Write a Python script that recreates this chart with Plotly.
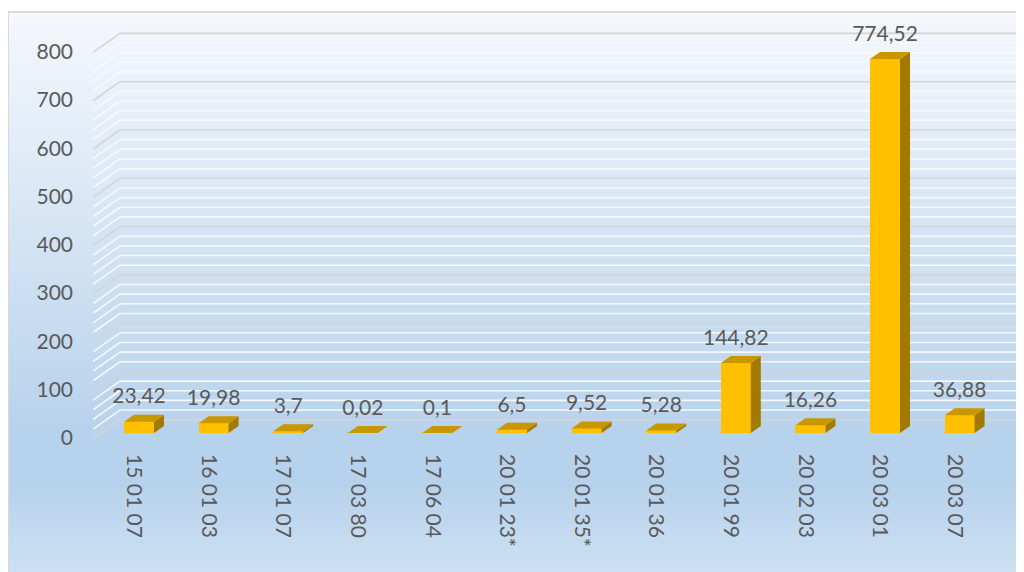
import plotly.graph_objects as go

# ---------------- data ----------------
categories = ["15 01 07", "16 01 03", "17 01 07", "17 03 80", "17 06 04", "20 01 23*",
              "20 01 35*", "20 01 36", "20 01 99", "20 02 03", "20 03 01", "20 03 07"]
values = [23.42, 19.98, 3.7, 0.02, 0.1, 6.5, 9.52, 5.28, 144.82, 16.26, 774.52, 36.88]
y_ticks = [0, 100, 200, 300, 400, 500, 600, 700, 800]
minor_step = 20

# ---------------- geometry / style ----------------
# page coordinates are converted to figure coordinates (the page body has an 8px margin)
OFF = 8
W, H = 1024, 572

def fx(px):  # page x -> figure x
    return px - OFF

def fy(py):  # page y -> figure y
    return py - OFF

L = fx(93)
T = fy(25)
plot_right = fx(1016)
plot_bottom = fy(445)
R = W - plot_right
B = H - plot_bottom
plot_w = plot_right - L
plot_h = plot_bottom - T

px_per_cat = 74.6
px_per_unit = 0.4829
first_center_px = fx(139)
zero_px = fy(433)

x_range = [(L - first_center_px) / px_per_cat, (plot_right - first_center_px) / px_per_cat]
y_range = [(zero_px - plot_bottom) / px_per_unit, (zero_px - T) / px_per_unit]

bar_w = 30 / px_per_cat
dx = 10 / px_per_cat          # bar depth, x
dy = 7 / px_per_unit          # bar depth, y
wall_front_x = x_range[0]
wall_back_x = (fx(120) - first_center_px) / px_per_cat
wall_front_dy = -12.0
wall_back_dy = 27.5

FRONT = "#FFC000"
TOP = "#C99700"
SIDE = "#A37A00"
TXT = "#595959"
FONT = "Lato"
FS = 21

def hex2rgb(h):
    h = h.lstrip("#")
    return tuple(int(h[i:i + 2], 16) for i in (0, 2, 4))

grad_stops = [(0.0, "#F5F8FC"), (0.74, "#B7D2EC"), (0.83, "#B7D2EC"), (1.0, "#CFE2F3")]

def grad_color(t):
    for (t0, c0), (t1, c1) in zip(grad_stops[:-1], grad_stops[1:]):
        if t0 <= t <= t1:
            f = 0 if t1 == t0 else (t - t0) / (t1 - t0)
            a, b = hex2rgb(c0), hex2rgb(c1)
            return "rgb(%d,%d,%d)" % tuple(round(a[i] + (b[i] - a[i]) * f) for i in range(3))
    return grad_stops[-1][1]

def paper_x(px_page):
    return (fx(px_page) - L) / plot_w

def paper_y(py_page):
    return (plot_bottom - fy(py_page)) / plot_h

shapes = []
# background gradient of chart area
top_px, bot_px, step = 12, 582, 4
py = top_px
while py < bot_px:
    t = (py - top_px + step / 2) / (bot_px - top_px)
    shapes.append(dict(type="rect", xref="paper", yref="paper", layer="below",
                       x0=paper_x(8), x1=paper_x(1050),
                       y0=paper_y(py + step + 0.5), y1=paper_y(py),
                       line=dict(width=0), fillcolor=grad_color(t)))
    py += step
# border
shapes.append(dict(type="rect", xref="paper", yref="paper", layer="below",
                   x0=paper_x(8), x1=paper_x(1050),
                   y0=paper_y(620), y1=paper_y(12),
                   line=dict(width=2, color="#D9D9D9"), fillcolor="rgba(0,0,0,0)"))

# 3D gridlines: diagonal side wall + back wall horizontal
k = y_ticks[0]
while k <= y_ticks[-1]:
    major = (k % 100 == 0)
    col = "#D4D4D4" if major else "rgba(248,250,252,0.95)"
    lw = 1.6
    shapes.append(dict(type="line", xref="x", yref="y", layer="below",
                       x0=wall_front_x, y0=k + wall_front_dy,
                       x1=wall_back_x, y1=k + wall_back_dy,
                       line=dict(color=col, width=lw)))
    shapes.append(dict(type="line", xref="x", yref="y", layer="below",
                       x0=wall_back_x, y0=k + wall_back_dy,
                       x1=x_range[1], y1=k + wall_back_dy,
                       line=dict(color=col, width=lw)))
    k += minor_step

idx = list(range(len(categories)))

fig = go.Figure()

# front faces
fig.add_trace(go.Bar(x=idx, y=values, width=bar_w, marker=dict(color=FRONT, line=dict(width=0)),
                     hoverinfo="skip", showlegend=False))

# side faces
sx, sy = [], []
for i, v in zip(idx, values):
    r = i + bar_w / 2
    sx += [r, r + dx, r + dx, r, r, None]
    sy += [0, dy, v + dy, v, 0, None]
fig.add_trace(go.Scatter(x=sx, y=sy, mode="lines", fill="toself", fillcolor=SIDE,
                         line=dict(width=0, color=SIDE), hoverinfo="skip", showlegend=False))

# top faces
tx, ty = [], []
for i, v in zip(idx, values):
    l_, r = i - bar_w / 2, i + bar_w / 2
    tx += [l_, l_ + dx, r + dx, r, l_, None]
    ty += [v, v + dy, v + dy, v, v, None]
fig.add_trace(go.Scatter(x=tx, y=ty, mode="lines", fill="toself", fillcolor=TOP,
                         line=dict(width=0, color=TOP), hoverinfo="skip", showlegend=False))

# data labels
label_text = [("%g" % v).replace(".", ",") for v in values]
label_off = 23.5 / px_per_unit
fig.add_trace(go.Scatter(x=idx, y=[v + label_off for v in values], mode="text",
                         text=label_text, textposition="middle center",
                         textfont=dict(family=FONT, size=FS, color=TXT),
                         hoverinfo="skip", showlegend=False))

fig.update_layout(
    template="none",
    width=W, height=H,
    margin=dict(l=L, r=R, t=T, b=B, pad=0, autoexpand=False),
    paper_bgcolor="white",
    plot_bgcolor="rgba(0,0,0,0)",
    shapes=shapes,
    showlegend=False,
    bargap=0,
    xaxis=dict(range=x_range, tickmode="array", tickvals=idx, ticktext=categories,
               tickangle=90, showgrid=False, zeroline=False, showline=False, ticks="",
               automargin=False,
               tickfont=dict(family=FONT, size=FS, color=TXT),
               ticklabelshift=-5, ticklabelstandoff=8, fixedrange=True),
    yaxis=dict(range=y_range, tickmode="array", tickvals=y_ticks,
               ticktext=[str(v) for v in y_ticks],
               showgrid=False, zeroline=False, showline=False, ticks="",
               automargin=False,
               tickfont=dict(family=FONT, size=FS, color=TXT),
               ticklabelshift=5, ticklabelstandoff=19, fixedrange=True),
)

fig.write_html("out.html")
